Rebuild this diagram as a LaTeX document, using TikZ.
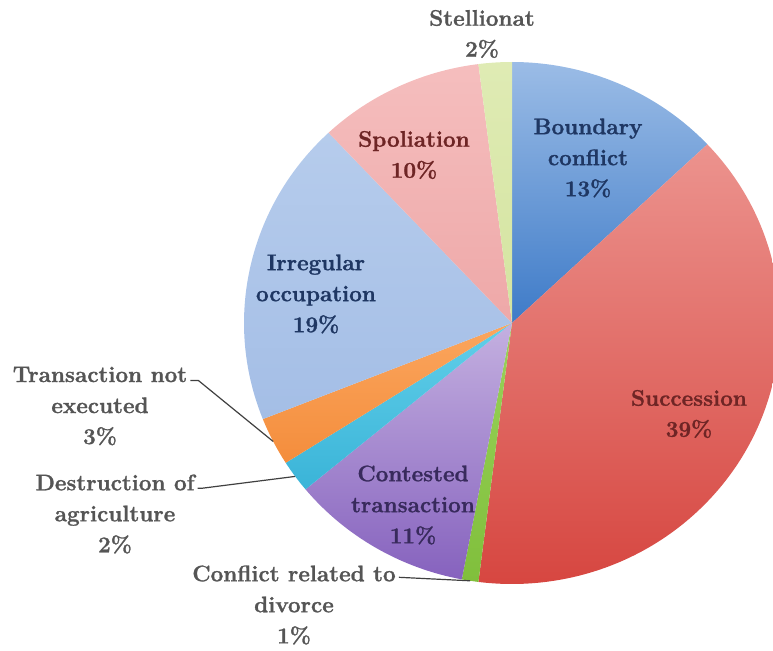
\documentclass[tikz,border=0pt]{standalone}
\usepackage{fontspec}
\setmainfont{Latin Modern Roman}[BoldFeatures={FakeBold=1.2}]
\usetikzlibrary{calc}
\definecolor{bndT}{HTML}{9BBCE6}\definecolor{bndB}{HTML}{3E7BC8}
\definecolor{sucT}{HTML}{EC938E}\definecolor{sucB}{HTML}{D6453F}
\definecolor{divT}{HTML}{9AD25A}\definecolor{divB}{HTML}{80BF3C}
\definecolor{conT}{HTML}{C4B0E0}\definecolor{conB}{HTML}{8662BE}
\definecolor{desT}{HTML}{62CFE9}\definecolor{desB}{HTML}{3AB4D8}
\definecolor{trnT}{HTML}{FBA65E}\definecolor{trnB}{HTML}{F48D3C}
\definecolor{irrT}{HTML}{B6CCEC}\definecolor{irrB}{HTML}{A4BEE6}
\definecolor{spoT}{HTML}{F5BEBE}\definecolor{spoB}{HTML}{EEA8A8}
\definecolor{steT}{HTML}{DFEBB4}\definecolor{steB}{HTML}{D4E4A0}
\definecolor{txtNavy}{HTML}{1F3763}
\definecolor{txtRed}{HTML}{6E2525}
\definecolor{txtPurple}{HTML}{382A5C}
\definecolor{txtGray}{HTML}{555555}
\definecolor{leadGray}{HTML}{404040}
\tikzset{
  lbl/.style={align=center, inner sep=0pt, font=\fontsize{22.5}{31}\selectfont\bfseries},
  lead/.style={draw=leadGray, line width=1.2pt},
}
\begin{document}
\begin{tikzpicture}[x=1pt,y=1pt]
\useasboundingbox (0,0) rectangle (773,-650);
\coordinate (C) at (512,-323);
\def\pieslice#1#2#3#4{\path[shade, top color=#3, bottom color=#4]
  (C) -- ++(#1:268 and 261) arc[start angle=#1, end angle=#2, x radius=268, y radius=261] -- cycle;}
\pieslice{90}{43.2}{bndT}{bndB}
\pieslice{43.2}{-97.2}{sucT}{sucB}
\pieslice{-97.2}{-100.8}{divT}{divB}
\pieslice{-100.8}{-140.4}{conT}{conB}
\pieslice{-140.4}{-147.6}{desT}{desB}
\pieslice{-147.6}{-158.4}{trnT}{trnB}
\pieslice{-158.4}{-226.8}{irrT}{irrB}
\pieslice{-226.8}{-262.8}{spoT}{spoB}
\pieslice{-262.8}{-270}{steT}{steB}

\node[lbl, text=txtGray] (ste) at (482,-34) {Stellionat\\2\%};
\node[lbl, text=txtNavy] (bnd) at (588,-158) {Boundary\\conflict\\13\%};
\node[lbl, text=txtRed] (spo) at (414,-155) {Spoliation\\10\%};
\node[lbl, text=txtNavy] (irr) at (316,-294) {Irregular\\occupation\\19\%};
\node[lbl, text=txtRed] (suc) at (689,-414) {Succession\\39\%};
\node[lbl, text=txtPurple] (con) at (413,-505) {Contested\\transaction\\11\%};
\node[lbl, text=txtGray] (trn) at (100,-406) {Transaction not\\executed\\3\%};
\node[lbl, text=txtGray] (des) at (115,-514) {Destruction of\\agriculture\\2\%};
\node[lbl, text=txtGray] (div) at (294,-605) {Conflict related to\\divorce\\1\%};

\coordinate (trnP) at ($(C)+(-153:268 and 261)$);
\coordinate (desP) at ($(C)+(-144:268 and 261)$);
\coordinate (divP) at ($(C)+(-99:268 and 261)$);
\draw[lead] ($(trn.north east)+(3,-14)$) -- ++(8,0) -- (trnP);
\draw[lead] ($(des.north east)+(3,-14)$) -- ++(4,0) -- (desP);
\draw[lead] ($(div.north east)+(3,-12)$) -- (divP);
\end{tikzpicture}
\end{document}
